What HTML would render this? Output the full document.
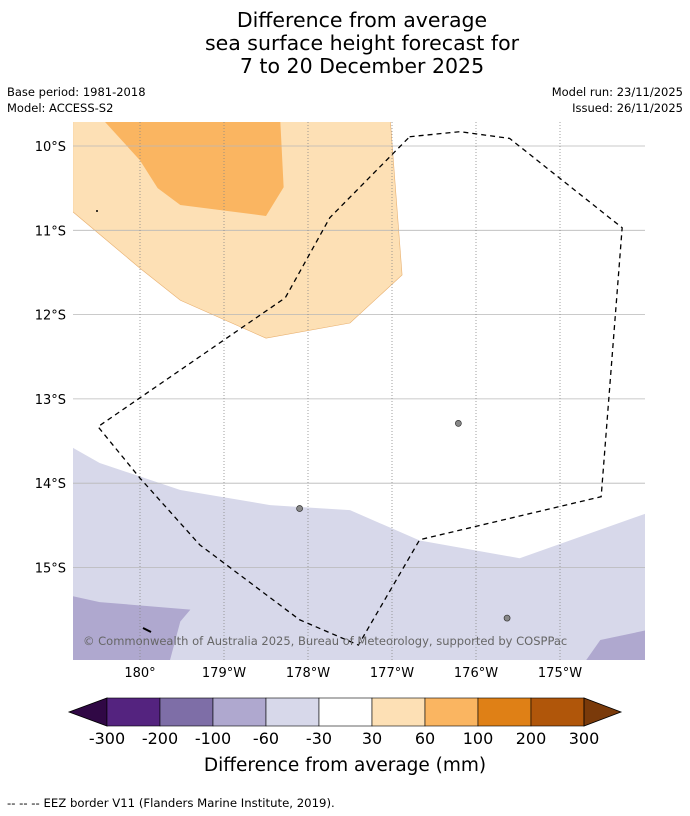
<!DOCTYPE html>
<html><head><meta charset="utf-8">
<style>
body{margin:0;background:#fff;width:690px;height:816px;overflow:hidden;font-family:"DejaVu Sans","Liberation Sans",sans-serif}
svg{display:block}
</style></head>
<body>
<svg id="chart" width="690" height="816" viewBox="0 0 690 816" font-family="DejaVu Sans, Liberation Sans, sans-serif">
<g font-size="20.5" text-anchor="middle" fill="#000">
<text x="362" y="27">Difference from average</text>
<text x="362" y="50">sea surface height forecast for</text>
<text x="362" y="73">7 to 20 December 2025</text>
</g>
<g font-size="11.5" fill="#000">
<text x="7" y="96">Base period: 1981-2018</text>
<text x="7" y="112">Model: ACCESS-S2</text>
<text x="683" y="96" text-anchor="end">Model run: 23/11/2025</text>
<text x="683" y="112" text-anchor="end">Issued: 26/11/2025</text>
</g>
<defs><clipPath id="mapclip"><rect x="73" y="122" width="572" height="538"/></clipPath></defs>
<g id="map" clip-path="url(#mapclip)"></g>
<g id="axes"></g>
<g id="cbar"></g>
<text x="345" y="771" font-size="18.5" text-anchor="middle">Difference from average (mm)</text>
<text x="7" y="807" font-size="11.7">--  --  -- EEZ border V11 (Flanders Marine Institute, 2019).</text>
</svg>
<script>
// longitude offsets east of 180° measured westward (deg), latitudes in °S
const lonTicks=[0,1,2,3,4,5];
const lonLabels=["180°","179°W","178°W","177°W","176°W","175°W"];
const latTicks=[10,11,12,13,14,15];
const latLabels=["10°S","11°S","12°S","13°S","14°S","15°S"];
const lightOrange=[[-0.8,9.7],[2.98,9.7],[3.12,11.53],[2.5,12.1],[1.5,12.28],[0.48,11.83],[0,11.45],[-0.8,10.78]];
const midOrange=[[-0.43,9.7],[1.67,9.7],[1.71,10.49],[1.5,10.83],[0.48,10.7],[0.21,10.5],[0,10.17]];
const lightPurple=[[-0.8,13.58],[-0.48,13.76],[0.48,14.08],[1.55,14.26],[2.5,14.32],[3.33,14.68],[4.52,14.89],[6.05,14.35],[6.05,16.2],[-0.8,16.2]];
const midPurpleW=[[-0.8,15.34],[-0.48,15.41],[0.6,15.5],[0.48,15.64],[0.33,16.2],[-0.8,16.2]];
const midPurpleE=[[5.24,16.2],[5.48,15.86],[6.05,15.74],[6.05,16.2]];
const eez=[[3.21,9.89],[3.81,9.83],[4.4,9.91],[5.74,10.97],[5.49,14.16],[3.33,14.67],[2.6,15.92],[1.9,15.62],[0.71,14.73],[0,13.94],[-0.5,13.33],[1.73,11.8],[2.26,10.85],[3.21,9.89]];
const islands=[[3.79,13.29],[1.9,14.3],[4.37,15.6]];
const cbLevels=["-300","-200","-100","-60","-30","30","60","100","200","300"];
const cbColors=["#54237f","#7e6ea7","#afa8cf","#d7d8ea","#ffffff","#fde0b5","#fab561","#df8016","#b0560a"];
const NS="http://www.w3.org/2000/svg";
const X=d=>140+84*d, Y=l=>146+84.3*(l-10);
function mk(t,a,p){const e=document.createElementNS(NS,t);for(const k in a)e.setAttribute(k,a[k]);p.appendChild(e);return e;}
const map=document.getElementById('map');
mk('rect',{x:73,y:122,width:572,height:538,fill:'#fff'},map);
function poly(arr,fill,name,stroke){const e=mk('polygon',{points:arr.map(p=>X(p[0])+','+Y(p[1])).join(' '),fill:fill,stroke:stroke||'none','stroke-width':0.6},map);

}
poly(lightOrange,'#fde0b5','anomaly-30-60-region','#e8b070');
poly(midOrange,'#fab561','anomaly-60-100-region');
poly(lightPurple,'#d7d8ea','anomaly-neg30-neg60-region');
poly(midPurpleW,'#afa8cf','anomaly-neg60-neg100-west');
poly(midPurpleE,'#afa8cf','anomaly-neg60-neg100-east');
const axes=document.getElementById('axes');
latTicks.forEach((l,i)=>{const g=mk('line',{x1:73,x2:645,y1:Y(l),y2:Y(l),stroke:'#b8b8b8','stroke-width':0.8},map);


const t=mk('text',{x:66,y:Y(l)+5,'font-size':13,'text-anchor':'end'},axes);t.textContent=latLabels[i];

});
lonTicks.forEach((d,i)=>{const g=mk('line',{x1:X(d),x2:X(d),y1:122,y2:660,stroke:'#888','stroke-width':0.8,'stroke-dasharray':'1,2'},map);


const t=mk('text',{x:X(d),y:677,'font-size':13,'text-anchor':'middle'},axes);t.textContent=lonLabels[i];

});
islands.forEach(p=>{const c=mk('ellipse',{cx:X(p[0]),cy:Y(p[1]),rx:3,ry:3,fill:'#888',stroke:'#333','stroke-width':0.7},map);

});
mk('line',{x1:143,y1:628,x2:151,y2:632,stroke:'#000','stroke-width':2},map);
mk('circle',{cx:97,cy:211,r:1,fill:'#000'},map);
const ez=mk('polyline',{points:eez.map(p=>X(p[0])+','+Y(p[1])).join(' '),fill:'none',stroke:'#000','stroke-width':1.3,'stroke-dasharray':'5,4'},map);


const cp=mk('text',{x:83,y:645,'font-size':11.5,fill:'#666'},map);cp.textContent='© Commonwealth of Australia 2025, Bureau of Meteorology, supported by COSPPac';


const cb=document.getElementById('cbar');const x0=107,w=53,y0=698,h=28;
mk('polygon',{points:`${x0},${y0} ${x0},${y0+h} 69,${y0+h/2}`,fill:'#300845',stroke:'#000','stroke-width':0.8},cb);
cbColors.forEach((c,i)=>{const r=mk('rect',{x:x0+i*w,y:y0,width:w,height:h,fill:c,stroke:'#000','stroke-width':0.6},cb);

});
const xe=x0+cbColors.length*w;
mk('polygon',{points:`${xe},${y0} ${xe},${y0+h} 621,${y0+h/2}`,fill:'#7a3a0a',stroke:'#000','stroke-width':0.8},cb);
cbLevels.forEach((s,i)=>{const t=mk('text',{x:x0+i*w,y:744,'font-size':16,'text-anchor':'middle'},cb);t.textContent=s;

});
</script>
</body></html>
